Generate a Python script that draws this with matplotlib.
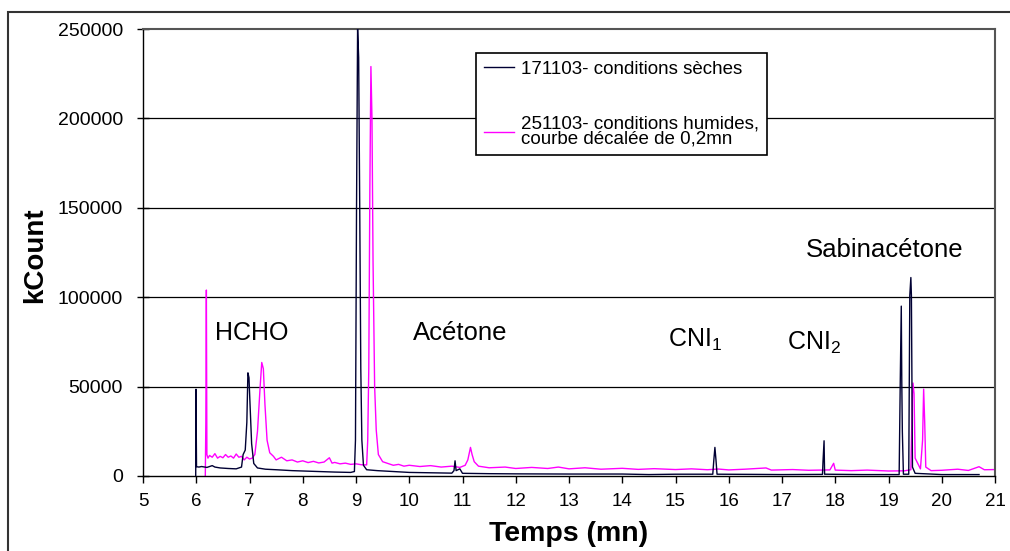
import matplotlib
matplotlib.use('Agg')
from matplotlib import pyplot as plt
from matplotlib.patches import Rectangle

# 171103 - conditions seches (temps en mn, kCount)
t_dry = [5.99, 5.995, 6.0, 6.005, 6.05, 6.1, 6.2, 6.3, 6.35, 6.45, 6.6, 6.75, 6.85,
         6.88, 6.92, 6.95, 6.97, 6.99, 7.01, 7.04, 7.08, 7.15, 7.3, 7.5, 7.8, 8.0,
         8.3, 8.6, 8.9, 8.97, 8.99, 9.01, 9.03, 9.05, 9.07, 9.09, 9.11, 9.14, 9.2,
         9.4, 9.7, 10.0, 10.4, 10.8, 10.84, 10.86, 10.88, 10.95, 11.0, 11.5, 12.0,
         13.0, 14.0, 14.5, 15.0, 15.7, 15.72, 15.74, 15.76, 15.78, 16.5, 17.0, 17.76,
         17.77, 17.79, 17.8, 18.5, 19.2, 19.22, 19.24, 19.25, 19.26, 19.28, 19.38,
         19.4, 19.42, 19.43, 19.45, 19.5, 20.0, 20.7]
v_dry = [0, 48500, 25700, 5200, 5000, 5300, 4800, 5800, 5000, 4500, 4200, 4000, 5000,
         12000, 14500, 30000, 57700, 55000, 40000, 18000, 7000, 4500, 3800, 3500, 3000, 2800,
         2500, 2200, 2000, 2500, 20000, 150000, 250000, 234000, 150000, 60000, 20000, 6000, 3500,
         3000, 2500, 2000, 1800, 1600, 3000, 8500, 3000, 4000, 1500, 1300, 1200,
         1100, 1100, 800, 1000, 1000, 9000, 16000, 9000, 1000, 900, 800, 900,
         8000, 19700, 1000, 800, 800, 51000, 95000, 51000, 25000, 1000, 1000,
         101000, 111000, 101000, 5000, 1500, 800, 800]

# 251103 - conditions humides, decalee de 0,2 mn
t_wet = [6.17, 6.18, 6.19, 6.2, 6.22, 6.25, 6.3, 6.35, 6.4, 6.45, 6.5, 6.55, 6.6, 6.65,
         6.7, 6.75, 6.8, 6.85, 6.9, 6.95, 7.0, 7.05, 7.1, 7.15, 7.2, 7.23, 7.26, 7.29,
         7.33, 7.38, 7.45, 7.5, 7.6, 7.7, 7.8, 7.9, 8.0, 8.1, 8.2, 8.3, 8.4, 8.5, 8.55,
         8.6, 8.7, 8.8, 8.9, 9.0, 9.1, 9.2, 9.22, 9.24, 9.26, 9.28, 9.3, 9.32, 9.35,
         9.38, 9.42, 9.5, 9.6, 9.7, 9.8, 9.9, 10.0, 10.2, 10.4, 10.6, 10.8, 10.95,
         11.05, 11.1, 11.15, 11.18, 11.22, 11.3, 11.5, 11.8, 12.0, 12.3, 12.6, 12.8,
         13.0, 13.3, 13.6, 14.0, 14.3, 14.6, 15.0, 15.3, 15.6, 15.8, 16.0, 16.3, 16.7,
         16.8, 17.2, 17.5, 17.9, 17.97, 18.0, 18.3, 18.6, 19.0, 19.3, 19.42, 19.45,
         19.46, 19.48, 19.5, 19.6, 19.64, 19.66, 19.68, 19.7, 19.8, 20.0, 20.3, 20.5,
         20.7, 20.8, 21.0]
v_wet = [0, 29600, 104000, 12000, 10000, 11500, 10500, 12500, 10000, 11000, 10200, 12000, 10500, 11200,
         10000, 12300, 10500, 11000, 9000, 10500, 9500, 10000, 12000, 25000, 50000, 63500, 60000, 40000,
         20000, 13000, 11000, 9000, 10500, 8500, 9000, 7800, 8500, 7500, 8200, 7300, 7800, 10200, 7200,
         7600, 6800, 7200, 6500, 6800, 6300, 6200, 20000, 60000, 160000, 229000, 200000, 120000, 50000,
         25700, 12000, 8000, 7000, 6000, 6500, 5500, 6000, 5300, 5800, 5000, 5500, 4800,
         6000, 9000, 16000, 12000, 8000, 5500, 4600, 5000, 4200, 4800, 4200, 5000,
         4000, 4600, 3800, 4300, 3700, 4100, 3600, 4000, 3500, 3900, 3400, 3800, 4500,
         3300, 3600, 3200, 3400, 7100, 3300, 3000, 3300, 2800, 2900, 3500, 46000,
         52000, 46000, 10000, 4000, 20000, 48600, 30000, 5000, 3000, 3200, 3800, 3100,
         5200, 3500, 3600]

y_ticks = [0, 50000, 100000, 150000, 200000, 250000]
x_ticks = list(range(5, 22))

plt.rcParams['font.family'] = ['Liberation Sans', 'DejaVu Sans']
plt.rcParams['mathtext.fontset'] = 'custom'
plt.rcParams['mathtext.rm'] = 'Liberation Sans'

fig = plt.figure(figsize=(10.1, 5.51), dpi=100)
ax = fig.add_axes([143 / 1010, 1 - 476 / 551, 852 / 1010, 447 / 551])

# cadre exterieur du graphique
fig.patches.append(Rectangle((8 / 1010, -0.2), 1.2, 1.2 - 12 / 551,
                             transform=fig.transFigure, fill=False,
                             edgecolor='#333333', linewidth=1.5))

for y in y_ticks[1:-1]:
    ax.axhline(y, color='black', linewidth=0.9, zorder=1)

ax.plot(t_dry, v_dry, color='#000033', linewidth=1.0, zorder=3,
        label='171103- conditions sèches')
ax.plot(t_wet, v_wet, color='#FF00FF', linewidth=1.0, zorder=2,
        label='251103- conditions humides,\ncourbe décalée de 0,2mn')

ax.set_xlim(5, 21)
ax.set_ylim(0, 250000)
ax.set_xticks(x_ticks)
ax.set_yticks(y_ticks)
ax.set_yticklabels([str(v) for v in y_ticks])
ax.tick_params(axis='x', direction='out', length=5, width=1, pad=7, labelsize=13.5)
ax.tick_params(axis='y', direction='inout', length=9, width=1, pad=10, labelsize=14)

for side in ['top', 'right']:
    ax.spines[side].set_color('#555555')
    ax.spines[side].set_linewidth(1.5)
for side in ['left', 'bottom']:
    ax.spines[side].set_color('black')
    ax.spines[side].set_linewidth(1.0)

ax.set_xlabel('Temps (mn)', fontsize=20.5, fontweight='bold')
ax.xaxis.set_label_coords(0.5, -0.1)
ax.set_ylabel('kCount', fontsize=20, fontweight='bold', va='center')
ax.yaxis.set_label_coords(-0.127, 0.494)

ax.text(6.35, 80000, 'HCHO', fontsize=18, va='center')
ax.text(10.07, 80000, 'Acétone', fontsize=18.5, va='center')
ax.text(14.86, 76000, 'CNI$_1$', fontsize=18, va='center')
ax.text(17.09, 74400, 'CNI$_2$', fontsize=18, va='center')
ax.text(17.45, 126400, 'Sabinacétone', fontsize=18.5, va='center')

leg = ax.legend(loc='upper left', bbox_to_anchor=(0.391, 0.946), fontsize=13.5,
                frameon=True, fancybox=False, shadow=False, framealpha=1,
                edgecolor='black', handlelength=1.6, handletextpad=0.4,
                labelspacing=2.0, borderpad=0.4, borderaxespad=0)
leg.get_frame().set_linewidth(1.2)
leg.get_texts()[1].set_linespacing(0.9)

plt.savefig('out.png', dpi=100)
